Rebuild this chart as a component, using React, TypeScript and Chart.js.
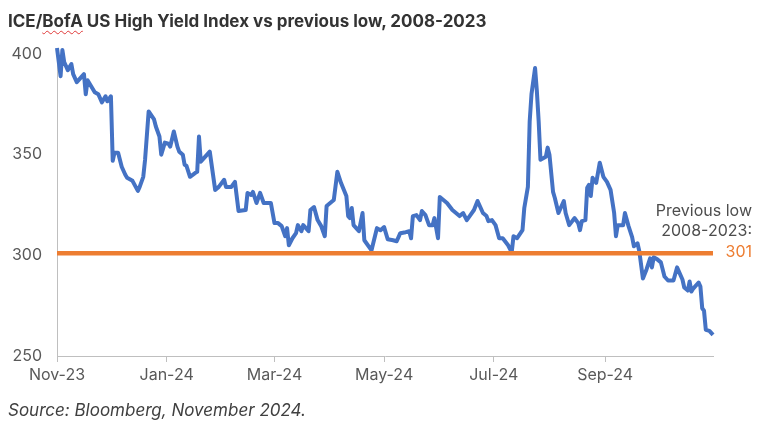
import React, { useEffect, useRef } from "react";
import { Chart, registerables } from "chart.js";

Chart.register(...registerables);

const TITLE_BEFORE = "ICE/";
const TITLE_UNDERLINED = "BofA";
const TITLE_AFTER = " US High Yield Index vs previous low, 2008-2023";
const SOURCE = "Source: Bloomberg, November 2024.";

// Days since 2023-11-01
const dayOffsets = [
  0, 2, 3, 4, 6, 8, 9, 11, 13, 15, 16, 17, 19, 21, 23, 25, 27, 28, 30, 31,
  32, 34, 36, 38, 39, 42, 45, 46, 48, 49, 51, 54, 55, 57, 58, 60, 62, 63, 65, 67,
  68, 70, 71, 72, 74, 77, 78, 79, 80, 82, 85, 88, 90, 93, 94, 97, 99, 101, 105, 106,
  108, 109, 111, 113, 115, 119, 121, 123, 125, 127, 128, 129, 131, 133, 134, 136, 137, 140, 141, 143,
  145, 147, 149, 150, 154, 156, 158, 161, 162, 163, 164, 165, 168, 170, 171, 175, 178, 180, 182, 184,
  187, 189, 191, 194, 196, 197, 198, 200, 202, 203, 205, 207, 209, 210, 212, 213, 217, 220, 224, 226,
  228, 230, 232, 234, 237, 239, 240, 242, 244, 246, 248, 251, 253, 254, 256, 259, 260, 262, 263, 264,
  266, 267, 268, 269, 272, 273, 274, 276, 277, 279, 282, 283, 285, 288, 290, 291, 292, 294, 295, 296,
  297, 298, 300, 302, 304, 306, 308, 310, 311, 312, 315, 316, 318, 320, 321, 323, 324, 326, 328, 330,
  331, 332, 334, 336, 338, 340, 343, 345, 348, 349, 351, 352, 353, 354, 357, 358, 359, 360, 361, 363,
  365,
];

const spreadValues = [
  403, 389, 402, 396, 392, 395, 390, 386, 388, 390, 380, 387, 384, 381, 380, 376, 379, 376.5, 379, 347,
  351, 351, 344, 340, 338.5, 337, 332, 334, 339, 347.5, 371.5, 367.5, 364, 359, 350, 356, 355.5, 354, 361.5, 354,
  351.5, 350, 345, 344.5, 339, 341, 341.5, 359, 346.5, 348.5, 351.5, 332.5, 334, 337.5, 334, 334, 336.5, 322, 322.5, 331,
  330, 331.5, 326, 331, 326, 326, 316, 316, 314.5, 309.5, 313.5, 305, 308.5, 311, 315, 312, 315, 312, 322.5, 324,
  317.5, 314.5, 309.5, 324.5, 327.5, 341.5, 336, 329.5, 319.5, 318.5, 323.5, 315, 312, 321, 307.5, 302.5, 313.5, 312.5, 314, 308,
  307.5, 307, 311, 311.5, 312, 308.5, 319.5, 320, 317.5, 322, 320, 315, 315, 318.5, 308.5, 329, 326, 322.5, 319.5, 321,
  317.5, 320, 322.5, 327, 321, 319.5, 317, 317.5, 315, 308.5, 308.5, 305, 301.5, 309.5, 308.5, 312.5, 323.5, 334, 366.5, 380,
  393, 381.5, 366.5, 347.5, 349, 353.5, 350, 331.5, 328.5, 321, 327, 321, 315, 318.5, 316, 312.5, 317, 317.5, 333.5, 335,
  329.5, 338.5, 336, 346, 339, 336.5, 332.5, 321, 309.5, 315, 315, 321, 314.5, 309, 304.5, 306, 302, 288.5, 293, 298.5,
  294, 299, 298, 296.5, 289.5, 287.5, 287.5, 294, 288, 284, 282.5, 287, 282, 283.5, 286.5, 284.5, 273.7, 272.5, 263, 262.5,
  260.5,
];

const previousLow = 301;
const annotationLines = ["Previous low", "2008-2023:"];

const xTickDays = [0, 61, 121, 182, 243, 305];
const xTickLabels = ["Nov-23", "Jan-24", "Mar-24", "May-24", "Jul-24", "Sep-24"];
const yTickValues = [250, 300, 350, 400];

const X_MAX = 365;
const FONT = "Inter";

const annotationPlugin = {
  id: "prevLowLabel",
  afterDatasetsDraw(chart: any) {
    const { ctx, chartArea } = chart;
    const yScale = chart.scales.y;
    const yPos = yScale.getPixelForValue(previousLow);
    const xRight = chartArea.right + 39;
    ctx.save();
    ctx.font = `16px ${FONT}`;
    ctx.textAlign = "right";
    ctx.textBaseline = "middle";
    ctx.fillStyle = "#4d4d4d";
    ctx.fillText(annotationLines[0], xRight, yPos - 42);
    ctx.fillText(annotationLines[1], xRight, yPos - 22);
    ctx.fillStyle = "#ED7D31";
    ctx.fillText(String(previousLow), xRight, yPos - 1);
    ctx.restore();
  },
};

export default function App() {
  const canvasRef = useRef<HTMLCanvasElement | null>(null);

  useEffect(() => {
    document.body.style.margin = "0";
    const canvas = canvasRef.current;
    if (!canvas) return;
    const chart = new Chart(canvas, {
      type: "line",
      data: {
        datasets: [
          {
            label: "Previous low 2008-2023",
            data: [
              { x: 0, y: previousLow },
              { x: X_MAX, y: previousLow },
            ],
            borderColor: "#ED7D31",
            borderWidth: 4.5,
            pointRadius: 0,
            tension: 0,
          },
          {
            label: "ICE/BofA US High Yield Index",
            data: dayOffsets.map((d, i) => ({ x: d, y: spreadValues[i] })),
            borderColor: "#4472C4",
            borderWidth: 4,
            pointRadius: 0,
            tension: 0,
            clip: false as any,
            borderJoinStyle: "round",
          },
        ],
      },
      plugins: [annotationPlugin],
      options: {
        animation: false,
        responsive: false,
        maintainAspectRatio: false,
        devicePixelRatio: 1,
        layout: { padding: { top: 54, right: 54, bottom: 43, left: 10 } },
        plugins: {
          legend: { display: false },
          tooltip: { enabled: false },
          title: { display: false },
        },
        scales: {
          x: {
            type: "linear",
            min: 0,
            max: X_MAX,
            afterBuildTicks: (scale: any) => {
              scale.ticks = xTickDays.map((v) => ({ value: v }));
            },
            afterFit: (scale: any) => {
              scale.height = 30;
            },
            ticks: {
              autoSkip: false,
              maxRotation: 0,
              padding: 4,
              color: "#595959",
              font: { family: FONT, size: 16 },
              callback: (_v: any, i: number) => xTickLabels[i],
            },
            grid: {
              drawOnChartArea: false,
              drawTicks: true,
              tickLength: 6,
              color: "#bfbfbf",
            },
            border: { display: true, color: "#bfbfbf", width: 1 },
          },
          y: {
            type: "linear",
            min: 250,
            max: 400,
            afterBuildTicks: (scale: any) => {
              scale.ticks = yTickValues.map((v) => ({ value: v }));
            },
            afterFit: (scale: any) => {
              scale.width = 47;
            },
            ticks: {
              padding: 15,
              color: "#595959",
              font: { family: FONT, size: 16 },
            },
            grid: { display: false, drawTicks: false },
            border: { display: true, color: "#bfbfbf", width: 1 },
          },
        },
      },
    });
    return () => chart.destroy();
  }, []);

  return (
    <div
      style={{
        position: "relative",
        width: 767,
        height: 429,
        background: "#ffffff",
        overflow: "hidden",
        fontFamily: FONT,
      }}
    >
      <canvas
        ref={canvasRef}
        width={767}
        height={429}
        style={{ position: "absolute", left: 0, top: 0, width: 767, height: 429 }}
      />
      <div
        style={{
          position: "absolute",
          left: 8,
          top: 10,
          fontSize: 17,
          lineHeight: "22px",
          fontWeight: 700,
          color: "#333333",
          whiteSpace: "nowrap",
        }}
      >
        {TITLE_BEFORE}
        <span
          style={{
            textDecorationLine: "underline",
            textDecorationStyle: "wavy",
            textDecorationColor: "#e03a3a",
            textDecorationThickness: "1px",
            textUnderlineOffset: "3px",
          }}
        >
          {TITLE_UNDERLINED}
        </span>
        {TITLE_AFTER}
      </div>
      <div
        style={{
          position: "absolute",
          left: 8,
          top: 399,
          fontSize: 17,
          lineHeight: "22px",
          fontStyle: "italic",
          color: "#404040",
          whiteSpace: "nowrap",
        }}
      >
        {SOURCE}
      </div>
    </div>
  );
}
